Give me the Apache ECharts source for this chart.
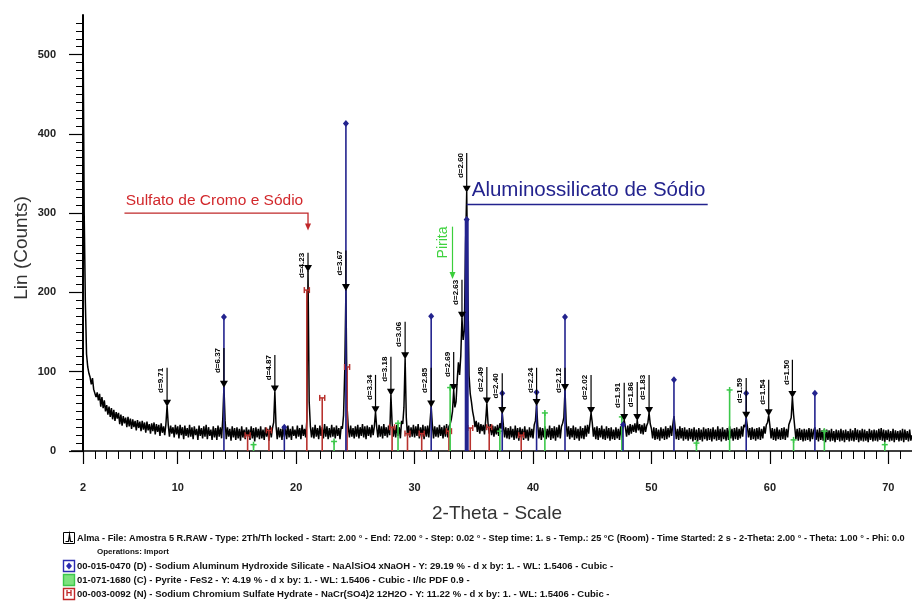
<!DOCTYPE html>
<html>
<head>
<meta charset="utf-8">
<script src="https://cdn.jsdelivr.net/npm/echarts@6/dist/echarts.min.js"></script>
<style>
html, body { margin: 0; padding: 0; background: #fff; }
#main { width: 912px; height: 601px; }
</style>
</head>
<body>
<div id="main"></div>
<script>
// Scan: 2.0 - 72.0 deg 2-theta, counts read every 0.1 deg
const scanStart = 2.0;
const scanStep = 0.1;
const counts = [
  550, 300, 187, 122, 106, 98, 93, 84, 92, 78,
  80, 68, 74, 64, 72, 56, 68, 54, 64, 50,
  58, 46, 56, 43, 54, 40, 52, 38, 49, 41,
  48, 34, 46, 32, 44, 35, 42, 30, 43, 31,
  41, 28, 40, 30, 38, 26, 39, 29, 37, 25,
  38, 27, 36, 23, 37, 26, 34, 22, 35, 25,
  36, 21, 34, 24, 33, 19, 35, 23, 31, 20,
  34, 57, 33, 18, 32, 22, 30, 17, 33, 21,
  31, 16, 33, 20, 30, 15, 32, 19, 29, 17,
  33, 18, 30, 15, 31, 20, 28, 14, 32, 19,
  29, 16, 31, 18, 33, 15, 30, 19, 27, 14,
  31, 17, 29, 14, 32, 18, 30, 16, 40, 81,
  38, 15, 30, 18, 28, 13, 31, 17, 29, 14,
  30, 16, 28, 13, 31, 17, 27, 15, 30, 18,
  27, 14, 31, 16, 29, 12, 30, 17, 28, 15,
  31, 16, 27, 14, 30, 18, 28, 13, 32, 17,
  29, 36, 75, 32, 15, 30, 17, 28, 14, 31,
  18, 29, 15, 32, 17, 28, 14, 31, 19, 27,
  16, 32, 18, 29, 15, 33, 19, 28, 17, 38,
  227, 62, 31, 17, 30, 16, 33, 18, 29, 15,
  32, 19, 30, 16, 34, 18, 31, 15, 29, 17,
  33, 18, 30, 16, 32, 19, 29, 15, 31, 28,
  45, 100, 203, 55, 30, 17, 32, 18, 29, 16,
  31, 18, 33, 16, 30, 19, 34, 17, 31, 15,
  32, 19, 30, 17, 33, 20, 31, 49, 30, 17,
  33, 18, 31, 16, 34, 19, 30, 17, 32, 20,
  71, 35, 18, 31, 17, 33, 19, 30, 16, 38,
  34, 55, 117, 42, 19, 32, 17, 30, 18, 33,
  17, 31, 19, 34, 16, 30, 18, 33, 15, 31,
  18, 32, 17, 36, 56, 33, 16, 31, 18, 30,
  17, 33, 19, 30, 16, 32, 18, 34, 17, 31,
  34, 40, 50, 77, 55, 62, 90, 112, 96, 120,
  168, 140, 152, 260, 327, 200, 95, 72, 62, 50,
  42, 30, 38, 24, 36, 22, 34, 25, 33, 21,
  38, 60, 35, 22, 34, 20, 32, 18, 31, 21,
  33, 19, 35, 28, 48, 32, 17, 30, 16, 29,
  15, 31, 17, 28, 14, 32, 16, 29, 13, 30,
  17, 28, 14, 31, 16, 27, 13, 30, 17, 28,
  16, 33, 38, 58, 32, 16, 30, 14, 29, 17,
  31, 15, 28, 17, 32, 14, 29, 16, 31, 13,
  30, 17, 33, 16, 31, 35, 42, 77, 36, 18,
  31, 15, 29, 17, 32, 14, 30, 16, 28, 13,
  31, 16, 29, 15, 32, 18, 33, 22, 35, 48,
  36, 18, 30, 15, 31, 14, 29, 17, 32, 15,
  28, 14, 31, 16, 29, 13, 30, 15, 27, 14,
  30, 16, 28, 14, 31, 17, 33, 39, 30, 18,
  32, 20, 34, 22, 33, 24, 35, 23, 39, 26,
  34, 22, 33, 21, 35, 24, 32, 36, 48, 34,
  28, 16, 30, 14, 29, 15, 27, 13, 30, 16,
  28, 14, 31, 15, 29, 17, 32, 19, 33, 44,
  30, 15, 28, 14, 31, 16, 29, 13, 30, 15,
  27, 13, 29, 15, 28, 12, 30, 14, 27, 12,
  29, 14, 27, 12, 30, 15, 28, 13, 29, 14,
  28, 12, 30, 15, 27, 13, 31, 14, 28, 12,
  30, 15, 27, 13, 29, 14, 31, 16, 28, 13,
  29, 15, 30, 14, 28, 16, 31, 18, 33, 30,
  42, 31, 17, 29, 14, 30, 15, 28, 13, 29,
  15, 30, 14, 28, 16, 31, 22, 33, 36, 45,
  32, 16, 29, 14, 28, 13, 30, 15, 27, 14,
  29, 15, 30, 14, 28, 17, 33, 35, 42, 68,
  46, 30, 15, 28, 13, 29, 14, 27, 12, 28,
  13, 27, 14, 29, 12, 28, 15, 26, 30, 14,
  27, 12, 29, 14, 26, 13, 28, 11, 27, 14,
  26, 12, 28, 13, 25, 11, 27, 14, 26, 12,
  28, 13, 26, 11, 27, 14, 25, 12, 28, 13,
  26, 12, 29, 14, 27, 11, 26, 13, 28, 12,
  27, 13, 25, 11, 28, 14, 26, 12, 27, 13,
  26, 12, 28, 14, 29, 13, 27, 11, 26, 14,
  27, 12, 25, 13, 28, 11, 26, 14, 25, 12,
  26, 13, 28, 11, 27, 14, 25, 12, 27, 13,
  20
];

// Peak search results: position (2-theta), counts, d-spacing label, label line end (counts)
const peakPos    = [9.1, 13.9, 18.2, 21.0, 24.2, 26.7, 28.0, 29.2, 31.4, 33.3, 34.0, 34.4, 36.1, 37.4, 40.3, 42.7, 44.9, 47.7, 48.8, 49.8, 58.0, 59.9, 61.9];
const peakCounts = [57, 81, 75, 227, 203, 49, 71, 117, 56, 77, 168, 327, 60, 48, 58, 77, 48, 39, 39, 48, 42, 45, 68];
const peakLabels = ["d=9.71", "d=6.37", "d=4.87", "d=4.23", "d=3.67", "d=3.34", "d=3.18", "d=3.06", "d=2.85", "d=2.69", "d=2.63", "d=2.60", "d=2.49", "d=2.40", "d=2.24", "d=2.12", "d=2.02", "d=1.91", "d=1.86", "d=1.83", "d=1.59", "d=1.54", "d=1.50"];
const peakLineTop = [105, 130, 121, 250, 253, 96, 119, 163, 105, 125, 216, 376, 106, 98, 105, 105, 96, 86, 87, 96, 92, 90, 115];

// Reference patterns (stick position, stick height)
const sodaliteSticks = [[13.9, 169], [19.0, 30], [24.2, 413], [31.4, 170], [34.4, 292], [37.4, 73], [40.3, 74], [42.7, 169], [47.6, 33], [51.9, 90], [58.0, 73], [63.8, 73]];
const pyriteSticks = [[16.4, 8], [23.2, 12], [28.6, 35], [33.0, 80], [37.2, 25], [41.0, 48], [47.5, 43], [53.8, 10], [56.6, 77], [62.0, 14], [64.6, 25], [69.7, 8]];
const chromiumSticks = [[15.9, 20], [17.7, 26], [20.9, 203], [22.2, 67], [24.3, 106], [28.1, 30], [29.4, 22], [30.6, 22], [32.9, 25], [34.7, 29], [36.3, 30], [39.0, 20]];

// Axis ticks
const xMajorTicks = [2, 10, 20, 30, 40, 50, 60, 70];
const yMajorTicks = [0, 100, 200, 300, 400, 500];

// Phase annotations
const annotationTexts = ["Sulfato de Cromo e Sódio", "Aluminossilicato de Sódio", "Pirita"];

// Pattern list printed under the chart
const scanInfo = "Alma - File: Amostra 5 R.RAW - Type: 2Th/Th locked - Start: 2.00 ° - End: 72.00 ° - Step: 0.02 ° - Step time: 1. s - Temp.: 25 °C (Room) - Time Started: 2 s - 2-Theta: 2.00 ° - Theta: 1.00 ° - Phi: 0.0";
const scanOps = "Operations: Import";
const patternEntries = [
  "00-015-0470 (D) - Sodium Aluminum Hydroxide Silicate - NaAlSiO4 xNaOH - Y: 29.19 % - d x by: 1. - WL: 1.5406 - Cubic -",
  "01-071-1680 (C) - Pyrite - FeS2 - Y: 4.19 % - d x by: 1. - WL: 1.5406 - Cubic - I/Ic PDF 0.9 -",
  "00-003-0092 (N) - Sodium Chromium Sulfate Hydrate - NaCr(SO4)2 12H2O - Y: 11.22 % - d x by: 1. - WL: 1.5406 - Cubic -"
];

const BLUE = '#23238e';
const GREEN = '#3cc84a';
const RED = '#b8322e';
const FONT = '"Liberation Sans", Arial, sans-serif';
const STRONG_STICK = 34.4;   // drawn with a heavier stroke

const profile = counts.map((c, i) => [+(scanStart + i * scanStep).toFixed(2), c]);
const peakData = peakPos.map((p, i) => [p, peakCounts[i], peakLineTop[i]]);

function markerShape(kind, x, y, color) {
  if (kind === 'diamond') {
    return { type: 'polygon', shape: { points: [[x, y - 3.5], [x + 3, y], [x, y + 3.5], [x - 3, y]] }, style: { fill: color } };
  }
  if (kind === 'plus') {
    return { type: 'group', children: [
      { type: 'line', shape: { x1: x - 3, y1: y, x2: x + 3, y2: y }, style: { stroke: color, lineWidth: 1.5 } },
      { type: 'line', shape: { x1: x, y1: y - 3, x2: x, y2: y + 3 }, style: { stroke: color, lineWidth: 1.5 } }
    ] };
  }
  // small "H" mark for the chromium sulfate pattern
  return { type: 'group', children: [
    { type: 'line', shape: { x1: x - 2.5, y1: y - 3, x2: x - 2.5, y2: y + 3 }, style: { stroke: color, lineWidth: 1.5 } },
    { type: 'line', shape: { x1: x + 2.5, y1: y - 3, x2: x + 2.5, y2: y + 3 }, style: { stroke: color, lineWidth: 1.5 } },
    { type: 'line', shape: { x1: x - 2.5, y1: y, x2: x + 2.5, y2: y }, style: { stroke: color, lineWidth: 1.5 } }
  ] };
}

function stickSeries(name, data, color, kind) {
  return {
    name: name,
    type: 'custom',
    z: 3,
    data: data,
    renderItem: function (params, api) {
      const x = api.value(0), h = api.value(1);
      const top = api.coord([x, h]);
      const bot = api.coord([x, 0]);
      const w = (kind === 'diamond' && Math.abs(x - STRONG_STICK) < 1e-6) ? 4 : 1.6;
      return { type: 'group', children: [
        { type: 'line', shape: { x1: top[0], y1: top[1], x2: bot[0], y2: bot[1] }, style: { stroke: color, lineWidth: w } },
        markerShape(kind, top[0], top[1], color)
      ] };
    }
  };
}

function arrowDown(x, y, color) {
  return { type: 'polygon', shape: { points: [[x - 3, y - 7], [x + 3, y - 7], [x, y]] }, style: { fill: color } };
}

const chart = echarts.init(document.getElementById('main'), null, { renderer: 'canvas' });

chart.setOption({
  animation: false,
  backgroundColor: '#ffffff',
  grid: { left: 83, right: 0, top: 15, bottom: 150, containLabel: false },
  xAxis: [
    {
      type: 'value', min: 2, max: 72, position: 'bottom',
      axisLine: { show: true, lineStyle: { color: '#000', width: 1.5 } },
      axisTick: { show: true, customValues: xMajorTicks, length: 13, lineStyle: { color: '#000', width: 1.2 } },
      axisLabel: { customValues: xMajorTicks, margin: 31, color: '#222', fontFamily: FONT, fontSize: 11, fontWeight: 'bold' },
      splitLine: { show: false }
    },
    {
      type: 'value', min: 2, max: 72, interval: 1, position: 'bottom',
      axisLine: { show: false },
      axisTick: { show: true, length: 8, lineStyle: { color: '#000', width: 1 } },
      axisLabel: { show: false },
      splitLine: { show: false }
    }
  ],
  yAxis: {
    type: 'value', min: 0, max: 550, interval: 100,
    axisLine: { show: true, lineStyle: { color: '#000', width: 2 } },
    axisTick: { show: true, customValues: yMajorTicks, length: 14, lineStyle: { color: '#000', width: 1.2 } },
    minorTick: { show: true, splitNumber: 10, length: 7, lineStyle: { color: '#000', width: 1 } },
    axisLabel: { customValues: yMajorTicks, margin: 27, color: '#222', fontFamily: FONT, fontSize: 11, fontWeight: 'bold' },
    splitLine: { show: false }
  },
  series: [
    {
      name: 'Alma',
      type: 'line',
      data: profile,
      showSymbol: false,
      symbol: 'none',
      sampling: null,
      lineStyle: { color: '#000', width: 1.5 },
      z: 2,
      silent: true
    },
    stickSeries('00-003-0092', chromiumSticks, RED, 'h'),
    stickSeries('01-071-1680', pyriteSticks, GREEN, 'plus'),
    stickSeries('00-015-0470', sodaliteSticks, BLUE, 'diamond'),
    {
      name: 'Peaks',
      type: 'custom',
      z: 4,
      data: peakData,
      renderItem: function (params, api) {
        const x = api.value(0), h = api.value(1), t = api.value(2);
        const p = api.coord([x, h]);
        const q = api.coord([x, t]);
        return { type: 'group', children: [
          { type: 'line', shape: { x1: p[0], y1: p[1] - 4, x2: q[0], y2: q[1] }, style: { stroke: '#000', lineWidth: 1.2 } },
          { type: 'polygon', shape: { points: [[p[0] - 4, p[1] - 6], [p[0] + 4, p[1] - 6], [p[0], p[1] + 1]] }, style: { fill: '#000' } },
          { type: 'text', x: q[0] - 6, y: q[1], rotation: Math.PI / 2,
            style: { text: peakLabels[params.dataIndex], align: 'right', verticalAlign: 'middle', font: 'bold 8px ' + FONT, fill: '#000' } }
        ] };
      }
    },
    {
      name: 'Phases',
      type: 'custom',
      z: 5,
      data: [[0], [1], [2]],
      renderItem: function (params, api) {
        const i = params.dataIndex;
        const text = annotationTexts[i];
        if (i === 0) {
          const a = api.coord([5.5, 300]), b = api.coord([21.0, 300]), c = api.coord([21.0, 278]);
          const m = api.coord([13.1, 300]);
          return { type: 'group', children: [
            { type: 'polyline', shape: { points: [a, b, [b[0], c[1] - 5]] }, style: { stroke: '#c0282a', lineWidth: 1.3, fill: null } },
            arrowDown(c[0], c[1], '#c0282a'),
            { type: 'text', x: m[0], y: m[1] - 4, style: { text: text, align: 'center', verticalAlign: 'bottom', font: '15.5px ' + FONT, fill: '#d2282c' } }
          ] };
        }
        if (i === 1) {
          const a = api.coord([34.4, 311]), b = api.coord([54.75, 311]);
          return { type: 'group', children: [
            { type: 'line', shape: { x1: a[0], y1: a[1], x2: b[0], y2: b[1] }, style: { stroke: BLUE, lineWidth: 1.6 } },
            { type: 'text', x: a[0] + 5, y: a[1] - 4, style: { text: text, align: 'left', verticalAlign: 'bottom', font: '20.5px ' + FONT, fill: '#23238e' } }
          ] };
        }
        const a = api.coord([33.2, 283]), b = api.coord([33.2, 217]);
        const m = api.coord([32.45, 263]);
        return { type: 'group', children: [
          { type: 'line', shape: { x1: a[0], y1: a[1], x2: b[0], y2: b[1] - 5 }, style: { stroke: '#3ccf3c', lineWidth: 1.2 } },
          arrowDown(b[0], b[1], '#3ccf3c'),
          { type: 'text', x: m[0], y: m[1], rotation: Math.PI / 2, style: { text: text, align: 'center', verticalAlign: 'middle', font: '14px ' + FONT, fill: '#3fd23f' } }
        ] };
      }
    }
  ],
  graphic: [
    { type: 'text', x: 22, y: 248, rotation: Math.PI / 2, style: { text: 'Lin (Counts)', align: 'center', verticalAlign: 'middle', font: '19px ' + FONT, fill: '#333' } },
    { type: 'text', x: 497, y: 514, style: { text: '2-Theta - Scale', align: 'center', verticalAlign: 'middle', font: '19px ' + FONT, fill: '#333' } },
    // x axis line continues a little to the left of the y axis
    { type: 'line', shape: { x1: 71, y1: 451, x2: 83, y2: 451 }, style: { stroke: '#000', lineWidth: 1.5 } },

    // scan line entry
    { type: 'rect', shape: { x: 63.5, y: 532.5, width: 11, height: 11 }, style: { stroke: '#000', fill: '#fff', lineWidth: 1 } },
    { type: 'polyline', shape: { points: [[65.5, 541.5], [68.5, 541.5], [69.5, 534.5], [70.5, 541.5], [73, 541.5]] }, style: { stroke: '#000', lineWidth: 1.2, fill: null } },
    { type: 'text', x: 77, y: 538, style: { text: scanInfo, align: 'left', verticalAlign: 'middle', font: 'bold 9.2px ' + FONT, fill: '#111' } },
    { type: 'text', x: 97, y: 552, style: { text: scanOps, align: 'left', verticalAlign: 'middle', font: 'bold 8px ' + FONT, fill: '#111' } },

    // reference pattern entries
    { type: 'rect', shape: { x: 63.5, y: 560.5, width: 11, height: 11 }, style: { stroke: '#2b2bb0', fill: '#fff', lineWidth: 1.4 } },
    { type: 'polygon', shape: { points: [[69, 562.5], [72, 566], [69, 569.5], [66, 566]] }, style: { fill: '#2b2bb0' } },
    { type: 'text', x: 77, y: 566, style: { text: patternEntries[0], align: 'left', verticalAlign: 'middle', font: 'bold 9.5px ' + FONT, fill: '#111' } },

    { type: 'rect', shape: { x: 63.5, y: 574.5, width: 11, height: 11 }, style: { stroke: '#3cc84a', fill: '#7ee27e', lineWidth: 1.4 } },
    { type: 'text', x: 77, y: 580, style: { text: patternEntries[1], align: 'left', verticalAlign: 'middle', font: 'bold 9.5px ' + FONT, fill: '#111' } },

    { type: 'rect', shape: { x: 63.5, y: 588.5, width: 11, height: 11 }, style: { stroke: '#c0282a', fill: '#fff', lineWidth: 1.4 } },
    { type: 'text', x: 69, y: 594, style: { text: 'H', align: 'center', verticalAlign: 'middle', font: 'bold 9px ' + FONT, fill: '#c0282a' } },
    { type: 'text', x: 77, y: 594, style: { text: patternEntries[2], align: 'left', verticalAlign: 'middle', font: 'bold 9.5px ' + FONT, fill: '#111' } }
  ]
});
</script>
</body>
</html>
